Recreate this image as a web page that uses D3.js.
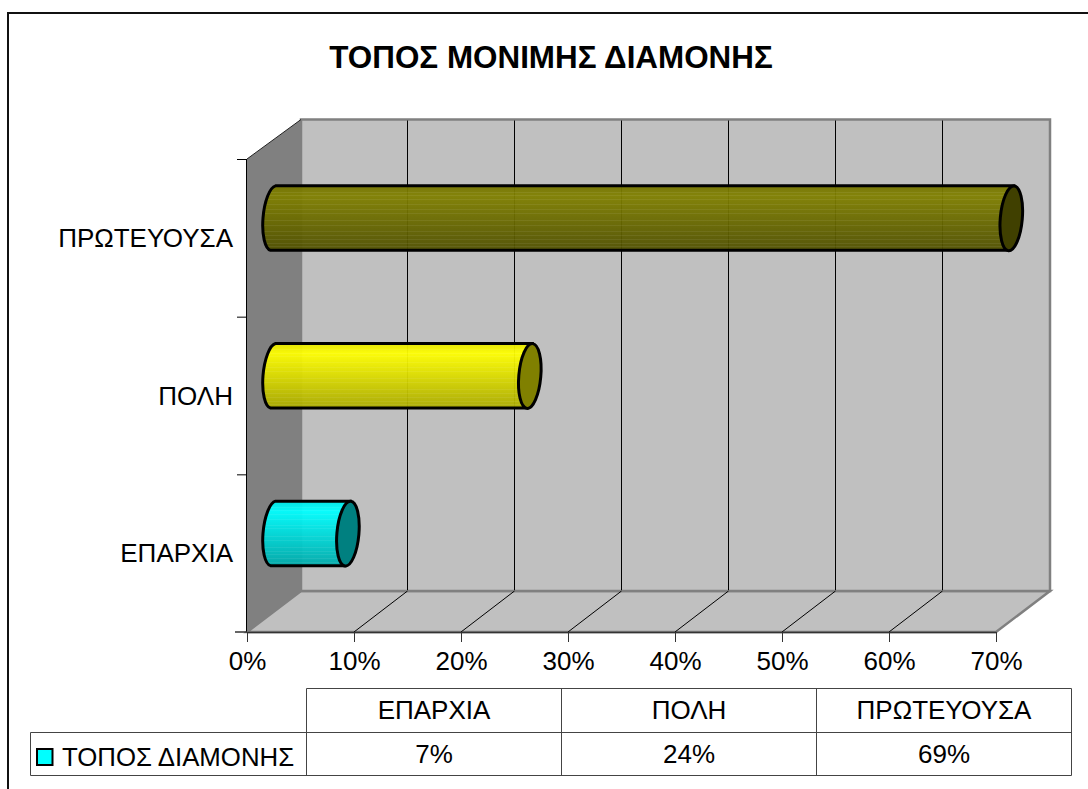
<!DOCTYPE html>
<html><head><meta charset="utf-8">
<script src="https://cdn.jsdelivr.net/npm/d3@7"></script>
<style>html,body{margin:0;background:#fff}svg{display:block}text{font-family:"Liberation Sans",Arial,sans-serif;fill:#000}</style>
</head><body><svg id="c" width="1088" height="789"></svg>
<script>
const title = "ΤΟΠΟΣ ΜΟΝΙΜΗΣ ΔΙΑΜΟΝΗΣ";
const seriesName = "ΤΟΠΟΣ ΔΙΑΜΟΝΗΣ";
const categories = ["ΕΠΑΡΧΙΑ", "ΠΟΛΗ", "ΠΡΩΤΕΥΟΥΣΑ"];
const values = [7, 24, 69];
const xTicks = [0, 10, 20, 30, 40, 50, 60, 70];
const bodyStops = [["#00e6e6","#00ffff","#00aaaa"],["#e6e600","#ffff00","#aaaa00"],["#747400","#808000","#505000"]];
const caps = ["#008080", "#808000", "#404000"];
const stripes = [.09,.14,.2,.28,.36,.42,.53,.6,.7,.76,.82,.88,.93];

const svg = d3.select("#c");
const x = d3.scaleLinear().domain([0, 70]).range([247, 996]);
const y = d3.scaleBand().domain(categories.slice().reverse()).range([159, 632]);
const dx = 54, dy = -41;
const yTop = 159, yBot = 632;
const backTop = 119.5;
const xEnd = x(70), x0 = x(0);
const fs = 26;

svg.append("path").attr("d", "M8,789V13H1088").attr("fill", "none").attr("stroke", "#111").attr("stroke-width", 2);

svg.append("text").attr("x", 551).attr("y", 68).attr("text-anchor", "middle")
  .attr("font-size", 31.4).attr("font-weight", "bold").text(title);

// walls
svg.append("polygon").attr("fill", "#808080")
  .attr("points", [[x0,yTop],[x0+dx,backTop],[x0+dx,yBot+dy],[x0,yBot]].join(" "));
svg.append("polygon").attr("fill", "#c0c0c0").attr("stroke", "#808080").attr("stroke-width", 2.5)
  .attr("points", [[x0,yBot],[x0+dx,yBot+dy],[xEnd+dx,yBot+dy],[xEnd,yBot]].join(" "));
svg.append("rect").attr("x", x0+dx).attr("y", backTop).attr("width", xEnd-x0).attr("height", yBot+dy-backTop)
  .attr("fill", "#c0c0c0").attr("stroke", "#808080").attr("stroke-width", 2.5);

// grid lines
xTicks.slice(1, -1).forEach(t => {
  const gxp = Math.floor(x(t)+dx) - .5;
  svg.append("line").attr("x1", gxp).attr("x2", gxp).attr("y1", backTop+1).attr("y2", yBot+dy-1)
    .attr("stroke", "#000").attr("stroke-width", 1);
  svg.append("line").attr("x1", x(t)).attr("x2", gxp).attr("y1", yBot).attr("y2", yBot+dy)
    .attr("stroke", "#000").attr("stroke-width", 1);
});
svg.append("line").attr("x1", x0).attr("y1", yTop).attr("x2", x0+dx).attr("y2", backTop).attr("stroke", "#222").attr("stroke-width", 1);
svg.append("line").attr("x1", x0).attr("y1", yBot).attr("x2", x0+dx).attr("y2", yBot+dy).attr("stroke", "#808080").attr("stroke-width", 1);

// axes
const xAxis = d3.axisBottom(x).tickValues(xTicks).tickFormat(d => d + "%").tickSize(10).tickSizeOuter(0).tickPadding(0);
const gx = svg.append("g").attr("transform", `translate(0,${yBot})`).call(xAxis);
gx.selectAll("text").attr("font-size", fs).attr("y", 38).attr("dy", 0);
gx.selectAll("line").attr("stroke", "#333");
gx.select(".domain").attr("stroke", "#333").attr("stroke-width", 1.5);

svg.append("line").attr("x1", x0-.5).attr("x2", x0-.5).attr("y1", yTop).attr("y2", yBot).attr("stroke", "#000");
y.domain().forEach(c => {
  svg.append("line").attr("x1", x0-10).attr("x2", x0).attr("y1", y(c)+.5).attr("y2", y(c)+.5).attr("stroke", "#000");
});
svg.append("line").attr("x1", x0-12).attr("x2", x0).attr("y1", yBot).attr("y2", yBot).attr("stroke", "#333").attr("stroke-width", 1.5);
svg.selectAll("text.cat").data(categories).join("text").attr("class", "cat")
  .attr("x", 233).attr("y", d => y(d) + y.bandwidth()/2 + 9).attr("text-anchor", "end")
  .attr("font-size", fs).text(d => d);

// cylinders
const defs = svg.append("defs");
const barH = 65, rx = 11, ry = barH/2, off = 26, yShift = -20;
categories.forEach((c, i) => {
  const g = defs.append("linearGradient").attr("id", "g"+i).attr("x1", 0).attr("x2", 0).attr("y1", 0).attr("y2", 1);
  [[0,bodyStops[i][0]],[.15,bodyStops[i][1]],[1,bodyStops[i][2]]].forEach(s =>
    g.append("stop").attr("offset", s[0]).attr("stop-color", s[1]));
});
categories.forEach((c, i) => {
  const cy = y(c) + y.bandwidth()/2 + yShift;
  const xl = x(0) + off, xr = x(values[i]) + off;
  const t = cy - ry + .5, b = cy + ry;
  const sk = 2.5;
  const G = svg.append("g");
  const d = `M${xl+sk},${t}L${xr+sk},${t}L${xr-sk},${b}L${xl-sk},${b}A${rx},${ry} 5 0 1 ${xl+sk},${t}Z`;
  defs.append("clipPath").attr("id", "clip"+i).append("path").attr("d", d);
  G.append("path").attr("d", d).attr("fill", `url(#g${i})`).attr("fill-opacity", .95);
  G.append("g").attr("clip-path", `url(#clip${i})`).selectAll("line").data(stripes).join("line")
    .attr("x1", xl - rx).attr("x2", xr)
    .attr("y1", f => Math.round(t + f * barH) + .5).attr("y2", f => Math.round(t + f * barH) + .5)
    .attr("stroke", "#fff").attr("stroke-opacity", .07);
  G.append("path").attr("d", d).attr("fill", "none").attr("stroke", "#000").attr("stroke-width", 3);
  G.append("ellipse").attr("rx", rx).attr("ry", ry).attr("transform", `translate(${xr},${cy+.5}) rotate(5)`)
    .attr("fill", caps[i]).attr("stroke", "#000").attr("stroke-width", 3);
});

// data table
const colX = [306.5, 561.5, 816.5, 1071.5];
const rowY = [688.5, 732.5, 775.5];
const lineC = "#444";
const H = (x1, x2, yy) => svg.append("line").attr("x1", x1).attr("x2", x2).attr("y1", yy).attr("y2", yy).attr("stroke", lineC);
const V = (xx, y1, y2) => svg.append("line").attr("x1", xx).attr("x2", xx).attr("y1", y1).attr("y2", y2).attr("stroke", lineC);
H(colX[0], colX[3], rowY[0]);
H(30.5, colX[3], rowY[1]);
H(30.5, colX[3], rowY[2]);
V(30.5, rowY[1], rowY[2]);
colX.forEach(c => V(c, rowY[0], rowY[2]));
categories.forEach((c, i) => {
  const mid = (colX[i] + colX[i+1]) / 2;
  svg.append("text").attr("x", mid).attr("y", rowY[0]+30).attr("text-anchor", "middle").attr("font-size", fs).text(c);
  svg.append("text").attr("x", mid).attr("y", rowY[1]+30.5).attr("text-anchor", "middle").attr("font-size", fs).text(values[i] + "%");
});
svg.append("rect").attr("x", 37).attr("y", 749).attr("width", 15.5).attr("height", 16)
  .attr("fill", "#00ffff").attr("stroke", "#000").attr("stroke-width", 2);
svg.append("text").attr("x", 62).attr("y", 766).attr("font-size", 25.8).text(seriesName);
</script></body></html>
